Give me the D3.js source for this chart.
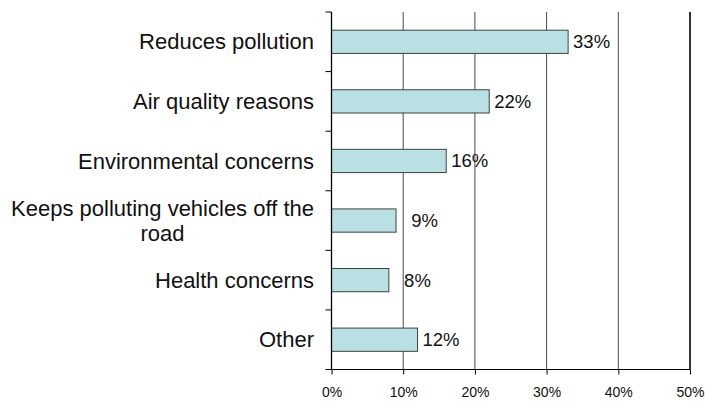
<!DOCTYPE html>
<html>
<head>
<meta charset="utf-8">
<script src="https://cdn.jsdelivr.net/npm/d3@7"></script>
<style>
  html, body { margin: 0; padding: 0; background: #fff; }
  svg { display: block; }
  text { font-family: Arial, "Liberation Sans", sans-serif; fill: #111; }
</style>
</head>
<body>
<svg id="chart" width="705" height="401"></svg>
<script>
const categories = [
  "Reduces pollution",
  "Air quality reasons",
  "Environmental concerns",
  "Keeps polluting vehicles off the road",
  "Health concerns",
  "Other"
];
const categoryLines = [
  ["Reduces pollution"],
  ["Air quality reasons"],
  ["Environmental concerns"],
  ["Keeps polluting vehicles off the", "road"],
  ["Health concerns"],
  ["Other"]
];
const values = [33, 22, 16, 9, 8, 12];
const xTicks = [0, 10, 20, 30, 40, 50];
const xTickLabels = ["0%", "10%", "20%", "30%", "40%", "50%"];

(function () {
const svg = d3.select("#chart");
const pLeft = 331.5, pRight = 690, pTop = 12, pBottom = 369.5;

const x = d3.scaleLinear().domain([0, 50]).range([pLeft, pRight]);
const y = d3.scaleBand().domain(categories).range([pTop, pBottom]).padding(0);
const barH = y.bandwidth() * 0.39;

// gridlines
svg.append("g").selectAll("line")
  .data(xTicks.slice(1))
  .join("line")
  .attr("x1", d => x(d)).attr("x2", d => x(d))
  .attr("y1", pTop).attr("y2", pBottom)
  .attr("stroke", d => d === 50 ? "#000" : "#4a4a4a")
  .attr("stroke-width", d => d === 50 ? 1.6 : 1);

// bars
svg.append("g").selectAll("rect")
  .data(values)
  .join("rect")
  .attr("x", x(0))
  .attr("y", (d, i) => y(categories[i]) + (y.bandwidth() - barH) / 2)
  .attr("width", d => x(d) - x(0))
  .attr("height", barH)
  .attr("fill", "#B9E0E2")
  .attr("stroke", "#404040")
  .attr("stroke-width", 1);

// value labels
svg.append("g").selectAll("text")
  .data(values)
  .join("text")
  .attr("x", d => x(d) + 42)
  .attr("y", (d, i) => y(categories[i]) + y.bandwidth() / 2)
  .attr("dy", "0.35em")
  .attr("text-anchor", "end")
  .style("font-size", "18.5px")
  .text(d => d + "%");

// x axis
const xAxis = d3.axisBottom(x)
  .tickValues(xTicks)
  .tickFormat((d, i) => xTickLabels[i])
  .tickSize(5)
  .tickPadding(13);
const gx = svg.append("g").attr("transform", `translate(0,${pBottom})`).call(xAxis);
gx.select(".domain").attr("stroke", "#000").attr("d", `M${pLeft},0H${pRight}`);
gx.selectAll(".tick line").attr("stroke", "#000");
gx.selectAll(".tick text").style("font-size", "14px").attr("fill", "#111")
  .style("font-family", "Arial, 'Liberation Sans', sans-serif");

// y axis line + ticks at band boundaries
const boundaries = categories.map(c => y(c)).concat([pBottom]);
svg.append("line")
  .attr("x1", pLeft).attr("x2", pLeft).attr("y1", pTop).attr("y2", pBottom)
  .attr("stroke", "#000").attr("stroke-width", 1.3);
svg.append("g").selectAll("line")
  .data(boundaries)
  .join("line")
  .attr("x1", pLeft - 6).attr("x2", pLeft)
  .attr("y1", d => d).attr("y2", d => d)
  .attr("stroke", "#000");

// category labels
const labelRight = 314;
const lineH = 25;
const gl = svg.append("g");
categoryLines.forEach((lines, i) => {
  const cy = y(categories[i]) + y.bandwidth() / 2;
  const t = gl.append("text")
    .style("font-size", "22px")
    .attr("text-anchor", "middle");
  const spans = lines.map((ln, j) => t.append("tspan")
    .attr("y", cy + (j - (lines.length - 1) / 2) * lineH)
    .attr("dy", "0.35em")
    .text(ln));
  const maxW = d3.max(spans, s => s.node().getComputedTextLength());
  spans.forEach(s => s.attr("x", labelRight - maxW / 2));
});
})();
</script>
</body>
</html>
